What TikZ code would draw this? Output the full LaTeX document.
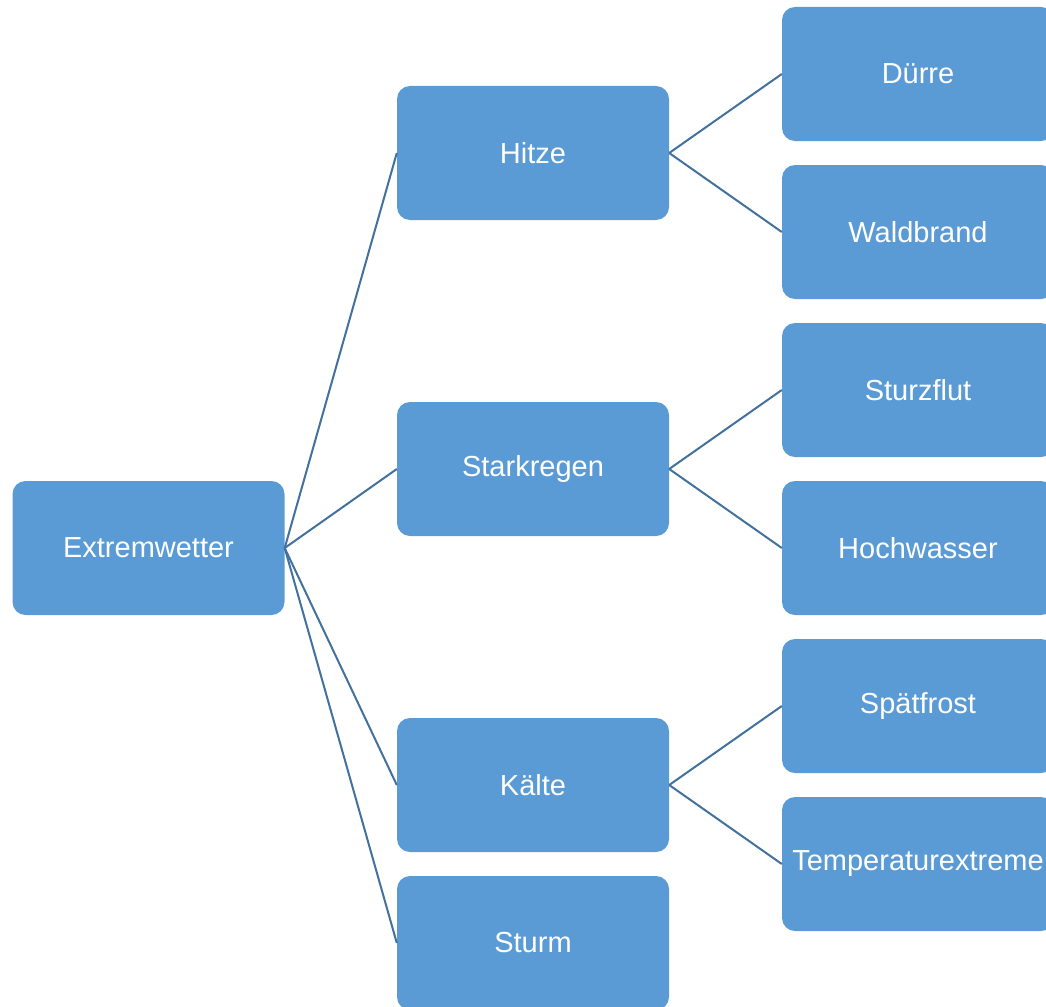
\documentclass[tikz,border=0pt]{standalone}
\usepackage{fontspec}
\setmainfont{Liberation Sans}
\definecolor{boxfill}{HTML}{5B9BD5}
\definecolor{linecol}{HTML}{41719C}
\begin{document}
\begin{tikzpicture}[x=1pt,y=-1pt,
  box/.style={fill=boxfill,draw=none,rounded corners=13pt,minimum width=272pt,minimum height=134pt,inner sep=0pt,text=white,font=\fontsize{29}{34}\selectfont},
  conn/.style={draw=linecol,line width=2pt}]
\useasboundingbox (0,0) rectangle (1046,1006);
\clip (0,0) rectangle (1046,1006);
\node[box] (ext) at (148.5,548) {Extremwetter};
\node[box] (hit) at (533,153) {Hitze};
\node[box] (sta) at (533,469) {Starkregen};
\node[box] (kal) at (533,785) {Kälte};
\node[box] (stu) at (533,943) {Sturm};
\node[box] (due) at (918,74) {Dürre};
\node[box] (wal) at (918,232) {Waldbrand};
\node[box] (stf) at (918,390) {Sturzflut};
\node[box] (hoc) at (918,548) {Hochwasser};
\node[box] (spa) at (918,706) {Spätfrost};
\node[box] (tem) at (918,864) {Temperaturextreme};
\foreach \c in {hit,sta,kal,stu}{\draw[conn] (ext.east) -- (\c.west);}
\draw[conn] (hit.east) -- (due.west);
\draw[conn] (hit.east) -- (wal.west);
\draw[conn] (sta.east) -- (stf.west);
\draw[conn] (sta.east) -- (hoc.west);
\draw[conn] (kal.east) -- (spa.west);
\draw[conn] (kal.east) -- (tem.west);
\end{tikzpicture}
\end{document}
